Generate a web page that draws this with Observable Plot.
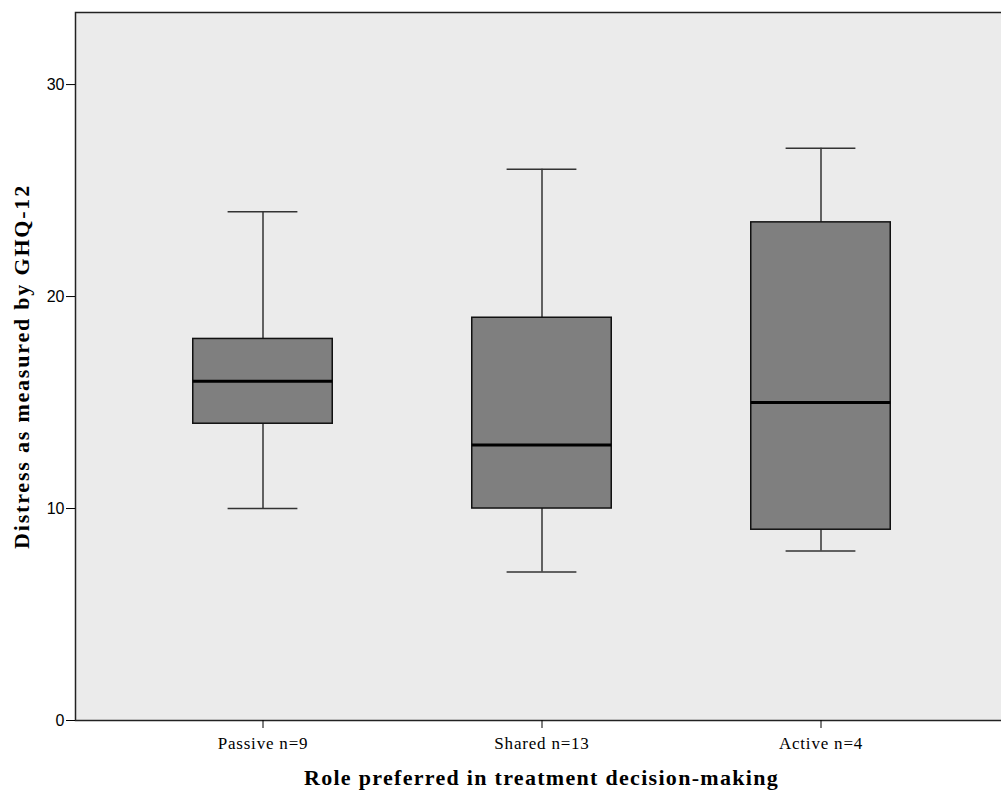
<!DOCTYPE html>
<html><head><meta charset="utf-8">
<script src="https://cdn.jsdelivr.net/npm/d3@7"></script>
<script src="https://cdn.jsdelivr.net/npm/@observablehq/plot@0.6"></script>
<style>
html,body{margin:0;padding:0;background:#fff;overflow:hidden}
#chart svg{display:block}
g[aria-label="x-axis tick label"] text{letter-spacing:0.8px}
</style></head><body><div id="chart"></div>
<script>
const categories = ["Passive n=9", "Shared n=13", "Active n=4"];
const whiskerLow = [10, 7, 8];
const quartile1 = [14, 10, 9];
const medians = [16, 13, 15];
const quartile3 = [18, 19, 23.5];
const whiskerHigh = [24, 26, 27];
const yTicks = [0, 10, 20, 30];
const xTitle = "Role preferred in treatment decision-making";
const yTitle = "Distress as measured by GHQ-12";

const rows = categories.map((c, i) => ({
  cat: c, lo: whiskerLow[i], q1: quartile1[i], med: medians[i], q3: quartile3[i], hi: whiskerHigh[i]
}));

const boxInset = 69.75, capInset = 104.6;
const chart = Plot.plot({
  width: 1001, height: 793,
  marginLeft: 75, marginRight: -6, marginTop: 12, marginBottom: 73,
  style: {fontFamily: "Liberation Serif", fontSize: "15px", background: "white", color: "black", overflow: "hidden"},
  x: {type: "band", domain: categories, paddingInner: 0, paddingOuter: 0.17, label: null},
  y: {domain: [0, 33.4], label: null},
  marks: [
    Plot.frame({fill: "#ebebeb", stroke: "#222", strokeWidth: 1.5}),
    Plot.ruleX(rows, {x: "cat", y1: "lo", y2: "q1", stroke: "#333", strokeWidth: 1.5}),
    Plot.ruleX(rows, {x: "cat", y1: "q3", y2: "hi", stroke: "#333", strokeWidth: 1.5}),
    Plot.tickY(rows, {x: "cat", y: "lo", stroke: "#333", strokeWidth: 1.5, insetLeft: capInset, insetRight: capInset}),
    Plot.tickY(rows, {x: "cat", y: "hi", stroke: "#333", strokeWidth: 1.5, insetLeft: capInset, insetRight: capInset}),
    Plot.barY(rows, {x: "cat", y1: "q1", y2: "q3", fill: "#7f7f7f", stroke: "#111", strokeWidth: 1.5, insetLeft: boxInset, insetRight: boxInset}),
    Plot.tickY(rows, {x: "cat", y: "med", stroke: "#000", strokeWidth: 3, insetLeft: boxInset, insetRight: boxInset}),
    Plot.axisY({ticks: yTicks, tickSize: 9, tickPadding: 2, fontFamily: "Liberation Sans", fontSize: 16, label: null}),
    Plot.axisX({tickSize: 8, tickPadding: 8, fontSize: 17, label: null}),
    Plot.text([xTitle], {text: d => d, frameAnchor: "bottom", dy: 57, fontSize: 22, fontWeight: "bold", lineAnchor: "middle", textAnchor: "middle"}),
    Plot.text([yTitle], {text: d => d, frameAnchor: "left", dx: -54, rotate: -90, fontSize: 22, fontWeight: "bold", lineAnchor: "middle", textAnchor: "middle"})
  ]
});
d3.select(chart).selectAll("text").each(function () {
  const t = this.textContent;
  if (t === xTitle) this.style.letterSpacing = "1.3px";
  if (t === yTitle) this.style.letterSpacing = "1.8px";
});
document.getElementById("chart").appendChild(chart);
</script></body></html>
